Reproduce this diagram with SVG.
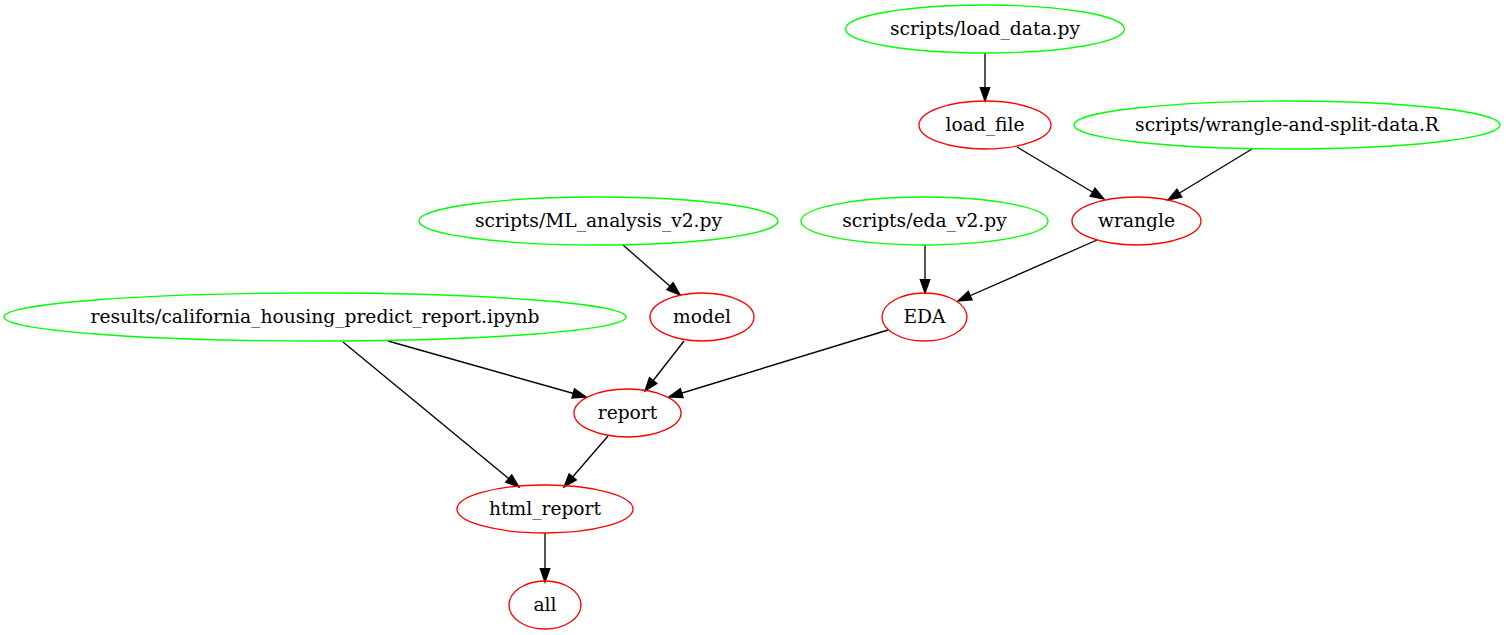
<svg xmlns="http://www.w3.org/2000/svg" width="1506" height="635" viewBox="0 0 1506 635">
<style>
.g ellipse{fill:none;stroke:#00ff00;stroke-width:1.33}
.r ellipse{fill:none;stroke:#ff0000;stroke-width:1.33}
text{font-family:"DejaVu Serif","Liberation Serif",serif;font-size:18.67px;fill:#000;text-anchor:middle}
#edges path{fill:none;stroke:#000;stroke-width:1.33;marker-end:url(#ah)}
</style>
<defs>
<marker id="ah" markerUnits="userSpaceOnUse" viewBox="0 0 13.3 9.4" refX="13.3" refY="4.7" markerWidth="13.3" markerHeight="9.4" orient="auto" overflow="visible">
<path d="M0,0 L13.3,4.7 L0,9.4 Z" fill="#000" stroke="#000" stroke-width="1.33"/>
</marker>
</defs>
<rect width="1506" height="635" fill="#fff"/>
<g id="edges">
<path d="M985,53 L985,101"/>
<path d="M1017,147 L1104,199"/>
<path d="M1252,149 L1168,200"/>
<path d="M623,245 L680,295"/>
<path d="M925,245 L925,293"/>
<path d="M1097,240 L958,301"/>
<path d="M388,341 L586,397"/>
<path d="M343,342 L519,487"/>
<path d="M684,341 L645,391"/>
<path d="M888,330 L669,397"/>
<path d="M608,436 L564,487"/>
<path d="M545,533 L545,582"/>
</g>
<g id="n_load_data" class="g"><ellipse cx="985" cy="29" rx="139.5" ry="24"/><text x="985" y="34.5">scripts/load_data.py</text></g>
<g id="n_load_file" class="r"><ellipse cx="985" cy="125" rx="66" ry="24"/><text x="985" y="130.5">load_file</text></g>
<g id="n_wrangle_script" class="g"><ellipse cx="1287" cy="125" rx="213" ry="24"/><text x="1287" y="130.5">scripts/wrangle-and-split-data.R</text></g>
<g id="n_wrangle" class="r"><ellipse cx="1136.5" cy="221" rx="64.5" ry="24"/><text x="1136.5" y="226.5">wrangle</text></g>
<g id="n_ml_script" class="g"><ellipse cx="598.5" cy="221" rx="179.5" ry="24"/><text x="598.5" y="226.5">scripts/ML_analysis_v2.py</text></g>
<g id="n_eda_script" class="g"><ellipse cx="924.5" cy="221" rx="123.5" ry="24"/><text x="924.5" y="226.5">scripts/eda_v2.py</text></g>
<g id="n_results" class="g"><ellipse cx="315" cy="317" rx="311" ry="24"/><text x="315" y="322.5">results/california_housing_predict_report.ipynb</text></g>
<g id="n_model" class="r"><ellipse cx="702" cy="317" rx="52" ry="24"/><text x="702" y="322.5">model</text></g>
<g id="n_eda" class="r"><ellipse cx="924.5" cy="317" rx="42.5" ry="24"/><text x="924.5" y="322.5">EDA</text></g>
<g id="n_report" class="r"><ellipse cx="627.5" cy="413" rx="53.5" ry="24"/><text x="627.5" y="418.5">report</text></g>
<g id="n_html_report" class="r"><ellipse cx="545" cy="509" rx="88" ry="24"/><text x="545" y="514.5">html_report</text></g>
<g id="n_all" class="r"><ellipse cx="545" cy="605" rx="36" ry="24"/><text x="545" y="610.5">all</text></g>
</svg>
